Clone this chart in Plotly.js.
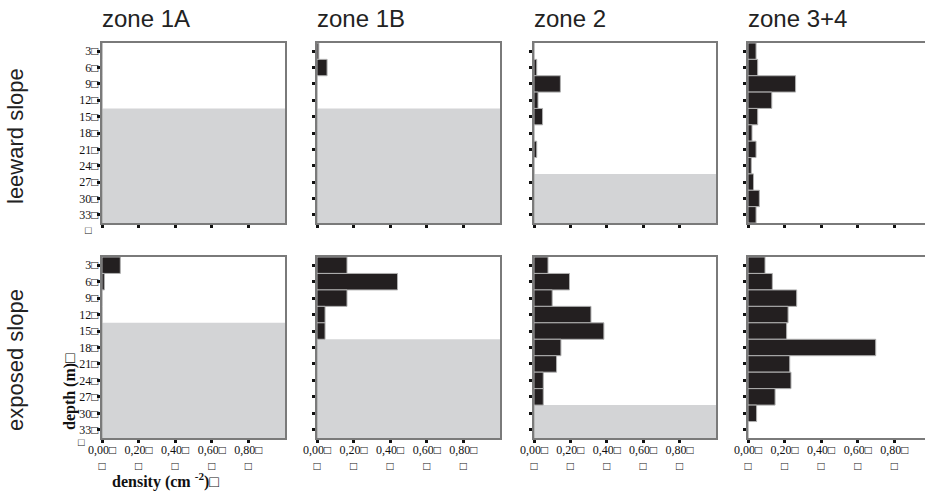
<!DOCTYPE html>
<html>
<head>
<meta charset="utf-8">
<script src="https://cdn.plot.ly/plotly-3.0.1.min.js"></script>
<style>html,body{margin:0;padding:0;background:#fff;}#chart{width:925px;height:493px;}</style>
</head>
<body>
<div id="chart"></div>
<script>
// ---- data ----
const depths = [3, 6, 9, 12, 15, 18, 21, 24, 27, 30, 33];
const depthLabels = ["3\u25A1", "6\u25A1", "9\u25A1", "12\u25A1", "15\u25A1", "18\u25A1", "21\u25A1", "24\u25A1", "27\u25A1", "30\u25A1", "33\u25A1"];
const zones = ["zone 1A", "zone 1B", "zone 2", "zone 3+4"];
const slopes = ["leeward slope", "exposed slope"];

// density (cm-2) per depth, leeward slope
const leeward1A = [0, 0, 0, 0, 0, 0, 0, 0, 0, 0, 0];
const leeward1B = [0.01, 0.055, 0, 0, 0, 0, 0, 0, 0, 0, 0];
const leeward2 = [0, 0.015, 0.145, 0.022, 0.047, 0, 0.015, 0, 0, 0, 0];
const leeward34 = [0.044, 0.053, 0.26, 0.13, 0.053, 0.022, 0.044, 0.018, 0.03, 0.062, 0.044];

// density (cm-2) per depth, exposed slope
const exposed1A = [0.10, 0.013, 0, 0, 0, 0, 0, 0, 0, 0, 0];
const exposed1B = [0.164, 0.44, 0.164, 0.044, 0.044, 0, 0, 0, 0, 0, 0];
const exposed2 = [0.077, 0.195, 0.10, 0.313, 0.384, 0.148, 0.124, 0.051, 0.051, 0, 0];
const exposed34 = [0.093, 0.133, 0.266, 0.219, 0.211, 0.698, 0.228, 0.235, 0.148, 0.047, 0];

// depth (m) below which the panel is shaded grey (null = no shading)
const shadeLeeward = [13.5, 13.5, 25.5, null];
const shadeExposed = [13.5, 16.5, 28.5, null];

const densityTicks = [0, 0.2, 0.4, 0.6, 0.8];
const densityTickLabels = ["0,00\u25A1<br>\u25A1", "0,20\u25A1<br>\u25A1", "0,40\u25A1<br>\u25A1", "0,60\u25A1<br>\u25A1", "0,80\u25A1<br>\u25A1"];

const yAxisTitle = "depth (m)\u25A1";
const xAxisTitle = "density (cm <sup>-2</sup>)\u25A1";

// ---- layout ----
const W = 925, H = 493;
const colPx = [[102, 285], [317, 500], [534, 716], [748, 925]];
const rowPx = [[43, 223], [257, 438]];
const series = [[leeward1A, leeward1B, leeward2, leeward34], [exposed1A, exposed1B, exposed2, exposed34]];
const shades = [shadeLeeward, shadeExposed];

const serif = "Liberation Serif, Times New Roman, serif";
const sans = "Liberation Sans, Arial, sans-serif";

const traces = [];
const layout = {
  width: W, height: H,
  margin: {l: 0, r: 0, t: 0, b: 0},
  paper_bgcolor: "#ffffff",
  plot_bgcolor: "#ffffff",
  showlegend: false,
  bargap: 0,
  shapes: [],
  annotations: []
};

for (let r = 0; r < 2; r++) {
  for (let c = 0; c < 4; c++) {
    const idx = r * 4 + c + 1;
    const xs = idx === 1 ? "x" : "x" + idx;
    const ys = idx === 1 ? "y" : "y" + idx;
    const xk = idx === 1 ? "xaxis" : "xaxis" + idx;
    const yk = idx === 1 ? "yaxis" : "yaxis" + idx;
    traces.push({
      type: "bar", orientation: "h",
      x: series[r][c], y: depths, width: 3,
      xaxis: xs, yaxis: ys,
      marker: {color: "#231f20", line: {color: "#b0b0b0", width: 1}},
      hoverinfo: "x+y"
    });
    const xEnd = c === 3 ? (colPx[c][1] - colPx[c][0]) / 183 : 1.0;
    layout[xk] = {
      domain: [colPx[c][0] / W, colPx[c][1] / W],
      anchor: ys,
      range: [0, xEnd],
      showgrid: false, zeroline: false,
      showline: true, linecolor: "#7a7a7a", linewidth: 2, mirror: true,
      ticks: "outside", ticklen: 3, tickwidth: 3, tickcolor: "#111",
      tickvals: densityTicks, ticktext: densityTickLabels,
      showticklabels: r === 1,
      ticklabelstandoff: -3,
      tickfont: {family: serif, size: 12, color: "#111"}
    };
    layout[yk] = {
      domain: [1 - rowPx[r][1] / H, 1 - rowPx[r][0] / H],
      anchor: xs,
      range: [34.5, 1.5],
      showgrid: false, zeroline: false,
      showline: true, linecolor: "#7a7a7a", linewidth: 2, mirror: true,
      ticks: "outside", ticklen: 3, tickwidth: 3, tickcolor: "#111",
      tickvals: depths, ticktext: depthLabels,
      showticklabels: c === 0,
      ticklabelstandoff: -4,
      tickfont: {family: serif, size: 12, color: "#111"}
    };
    const s = shades[r][c];
    if (s !== null) {
      layout.shapes.push({
        type: "rect", layer: "below",
        xref: xs + " domain", yref: ys,
        x0: 0, x1: 1, y0: s, y1: 34.5,
        fillcolor: "#d3d4d6", line: {width: 0}
      });
    }
    if (r === 0) {
      layout.annotations.push({
        text: zones[c], xref: xs + " domain", yref: "paper",
        x: -0.01, y: 1 - 19 / H, xanchor: "left", yanchor: "middle",
        showarrow: false, font: {family: sans, size: 24, color: "#222"}
      });
    }
  }
  layout.annotations.push({
    text: slopes[r], xref: "paper", yref: "paper",
    x: 15 / W, y: 1 - (r === 0 ? 136 : 360) / H, textangle: -90,
    xanchor: "center", yanchor: "middle", showarrow: false,
    font: {family: sans, size: 22, color: "#222"}
  });
  layout.annotations.push({
    text: "\u25A1", xref: "paper", yref: "paper",
    x: (r === 0 ? 88 : 81) / W, y: 1 - (r === 0 ? 230 : 442) / H,
    xanchor: "center", yanchor: "middle", showarrow: false,
    font: {family: serif, size: 11, color: "#111"}
  });
}

layout.annotations.push({
  text: "<b>" + yAxisTitle + "</b>", xref: "paper", yref: "paper",
  x: 70 / W, y: 1 - 392 / H, textangle: -90,
  xanchor: "center", yanchor: "middle", showarrow: false,
  font: {family: serif, size: 16, color: "#111"}
});
layout.annotations.push({
  text: "<b>" + xAxisTitle + "</b>", xref: "paper", yref: "paper",
  x: 165 / W, y: 1 - 480 / H,
  xanchor: "center", yanchor: "middle", showarrow: false,
  font: {family: serif, size: 16, color: "#111"}
});

Plotly.newPlot("chart", traces, layout, {displayModeBar: false, staticPlot: true});
</script>
</body>
</html>
